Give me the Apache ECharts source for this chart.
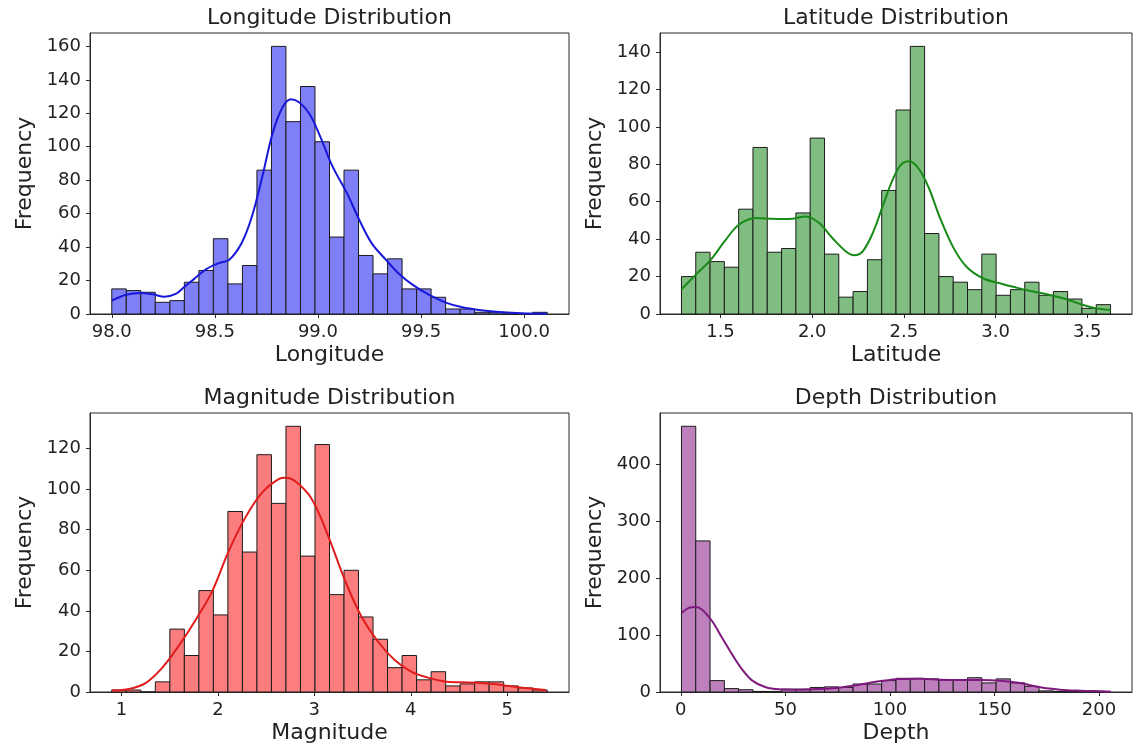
<!DOCTYPE html>
<html><head><meta charset="utf-8">
<script src="https://cdn.jsdelivr.net/npm/echarts@6/dist/echarts.min.js"></script>
<style>html,body{margin:0;padding:0;background:#fff}#c{width:1135px;height:751px}</style>
</head><body><div id="c"></div><script>
// ---- Longitude ----
const lonBinStart = 98.0, lonBinWidth = 0.0704;
const lonCounts = [15,14,13,7,8,19,26,45,18,29,86,160,115,136,103,46,86,35,24,33,15,15,10,3,3,1,1,0,0,1];
const lonKde = [[98.00,8],[98.07,11.5],[98.14,12.6],[98.20,11.8],[98.255,10.3],[98.31,12],[98.35,16],[98.40,21],[98.46,27],[98.52,30.4],[98.57,32.4],[98.63,42.4],[98.68,58.4],[98.73,82],[98.78,108],[98.83,124],[98.87,128.4],[98.91,126.4],[98.96,119.4],[99.01,106.4],[99.07,88.4],[99.14,72.4],[99.20,56.4],[99.26,42.4],[99.33,32.4],[99.39,24.4],[99.46,17.4],[99.54,11.4],[99.62,6.8],[99.70,4],[99.78,2.4],[99.88,1.2],[99.99,0.4],[100.11,0.2]];
const lonTicks = [98.0,98.5,99.0,99.5,100.0];
const lonYTicks = [0,20,40,60,80,100,120,140,160];
// ---- Latitude ----
const latBinStart = 1.287, latBinWidth = 0.078;
const latCounts = [20,33,28,25,56,89,33,35,54,94,32,9,12,29,66,109,143,43,20,17,13,32,10,13,17,10,12,8,3,5];
const latKde = [[1.287,13.2],[1.364,20.9],[1.446,28.9],[1.528,39.6],[1.60,47.7],[1.692,51.3],[1.783,50.9],[1.874,50.7],[1.965,52.1],[2.038,48.6],[2.111,40.5],[2.184,33.4],[2.23,31.4],[2.275,33.4],[2.33,43.2],[2.384,57.5],[2.439,71.8],[2.485,79.8],[2.53,81.6],[2.585,77.1],[2.64,66.4],[2.694,52.1],[2.767,36],[2.84,25.4],[2.931,19.1],[3.022,16.4],[3.114,14.1],[3.205,12],[3.296,10.2],[3.387,7.9],[3.478,4.8],[3.551,3],[3.628,2.1]];
const latTicks = [1.5,2.0,2.5,3.0,3.5];
const latYTicks = [0,20,40,60,80,100,120,140];
// ---- Magnitude ----
const magBinStart = 0.9, magBinWidth = 0.1505;
const magCounts = [1,1,0,5,31,18,50,38,89,69,117,93,131,67,122,48,60,37,26,12,18,6,10,3,4,5,5,3,2,1];
const magKde = [[0.90,0.7],[1.08,1.5],[1.25,4.4],[1.42,11.8],[1.59,22.5],[1.76,34.8],[1.94,49.5],[2.11,69.2],[2.28,85.6],[2.46,98.4],[2.63,105],[2.70,105.6],[2.80,104],[2.97,95.4],[3.14,77.4],[3.31,56],[3.48,38],[3.66,24.9],[3.83,15.9],[4.00,10.2],[4.17,7.2],[4.35,5.2],[4.52,4.8],[4.69,4.6],[4.86,3.9],[5.04,2.8],[5.21,1.8],[5.40,1]];
const magTicks = [1,2,3,4,5];
const magYTicks = [0,20,40,60,80,100,120];
// ---- Depth ----
const depBinStart = 0.3, depBinWidth = 6.84;
const depCounts = [466,265,20,6,4,1,1,5,5,8,9,8,14,14,20,24,24,23,21,21,25,16,23,16,10,2,1,1,1,1];
const depKde = [[0.33,138.6],[3.8,147.4],[7.0,149],[10.2,144.4],[15.0,124],[19.8,94.7],[24.6,65.5],[29.4,39.2],[34.2,19.9],[40.6,8.2],[47,4.7],[56.6,4.1],[66.2,5.3],[75.8,7.6],[85.4,12.9],[95,18.7],[104.6,22.8],[114.2,23.4],[123.8,21.6],[133.4,21],[143,21],[152.6,19.9],[162.2,15.8],[171.8,8.2],[181.4,4.1],[191,2.3],[200.6,1.2],[205.7,0.6]];
const depTicks = [0,50,100,150,200];
const depYTicks = [0,100,200,300,400];

const FONT = 'DejaVu Sans';
const panels = [
  {title:'Longitude Distribution', xName:'Longitude', start:lonBinStart, bw:lonBinWidth, counts:lonCounts, kde:lonKde, xt:lonTicks, yt:lonYTicks, fill:'#7f7ff7', line:'#1818d8', dec:1, g:{left:90,top:33,width:479,height:281}},
  {title:'Latitude Distribution', xName:'Latitude', start:latBinStart, bw:latBinWidth, counts:latCounts, kde:latKde, xt:latTicks, yt:latYTicks, fill:'#80bd80', line:'#188a18', dec:1, g:{left:660,top:33,width:472,height:281}},
  {title:'Magnitude Distribution', xName:'Magnitude', start:magBinStart, bw:magBinWidth, counts:magCounts, kde:magKde, xt:magTicks, yt:magYTicks, fill:'#fb7d7d', line:'#e01c1c', dec:0, g:{left:90,top:413,width:479,height:279}},
  {title:'Depth Distribution', xName:'Depth', start:depBinStart, bw:depBinWidth, counts:depCounts, kde:depKde, xt:depTicks, yt:depYTicks, fill:'#bd80bd', line:'#7e1a7e', dec:0, g:{left:660,top:413,width:472,height:279}}
];

const grids = [], xAxes = [], yAxes = [], series = [], graphics = [];
panels.forEach((p, i) => {
  const n = p.counts.length, R = p.bw * n;
  grids.push(Object.assign({show:true, borderColor:'#2a2a2a', borderWidth:1, backgroundColor:'#fff'}, p.g));
  xAxes.push({
    type:'value', gridIndex:i, min:p.start - 0.05*R, max:p.start + 1.05*R,
    name:p.xName, nameLocation:'middle', nameGap:30,
    nameTextStyle:{fontFamily:FONT, fontSize:22, color:'#222'},
    axisLine:{show:true, onZero:false, lineStyle:{color:'#2a2a2a', width:1}},
    axisTick:{show:true, length:4, customValues:p.xt, lineStyle:{color:'#2a2a2a'}},
    axisLabel:{customValues:p.xt, margin:9, fontFamily:FONT, fontSize:18, color:'#222',
      formatter: v => Number(v).toFixed(p.dec)},
    splitLine:{show:false}
  });
  yAxes.push({
    type:'value', gridIndex:i, min:0, max:Math.max(...p.counts)*1.05,
    name:'Frequency', nameLocation:'middle', nameGap:54,
    nameTextStyle:{fontFamily:FONT, fontSize:22, color:'#222'},
    axisLine:{show:true, onZero:false, lineStyle:{color:'#2a2a2a', width:1}},
    axisTick:{show:true, length:4, customValues:p.yt, lineStyle:{color:'#2a2a2a'}},
    axisLabel:{customValues:p.yt, margin:9, fontFamily:FONT, fontSize:18, color:'#222'},
    splitLine:{show:false}
  });
  const binData = p.counts.map((c, k) => [p.start + k*p.bw, p.start + (k+1)*p.bw, c]);
  series.push({
    type:'custom', xAxisIndex:i, yAxisIndex:i, data:binData, encode:{x:[0,1], y:2},
    renderItem:(params, api) => {
      const a = api.coord([api.value(0), api.value(2)]);
      const b = api.coord([api.value(1), 0]);
      return {type:'rect', shape:{x:a[0], y:a[1], width:b[0]-a[0], height:b[1]-a[1]},
        style:{fill:p.fill, stroke:'#1c1c1c', lineWidth:1}};
    },
    z:2
  });
  series.push({
    type:'line', xAxisIndex:i, yAxisIndex:i, data:p.kde, smooth:0.35, showSymbol:false,
    lineStyle:{color:p.line, width:2}, z:3, silent:true
  });
  graphics.push({
    type:'text', x:p.g.left + p.g.width/2, y:p.g.top - 15,
    style:{text:p.title, fontFamily:FONT, fontSize:22, fill:'#222', align:'center', verticalAlign:'middle'}
  });
});

const chart = echarts.init(document.getElementById('c'), null, {renderer:'canvas'});
chart.setOption({
  animation:false, backgroundColor:'#fff',
  grid:grids, xAxis:xAxes, yAxis:yAxes, series:series, graphic:graphics
});
</script></body></html>
